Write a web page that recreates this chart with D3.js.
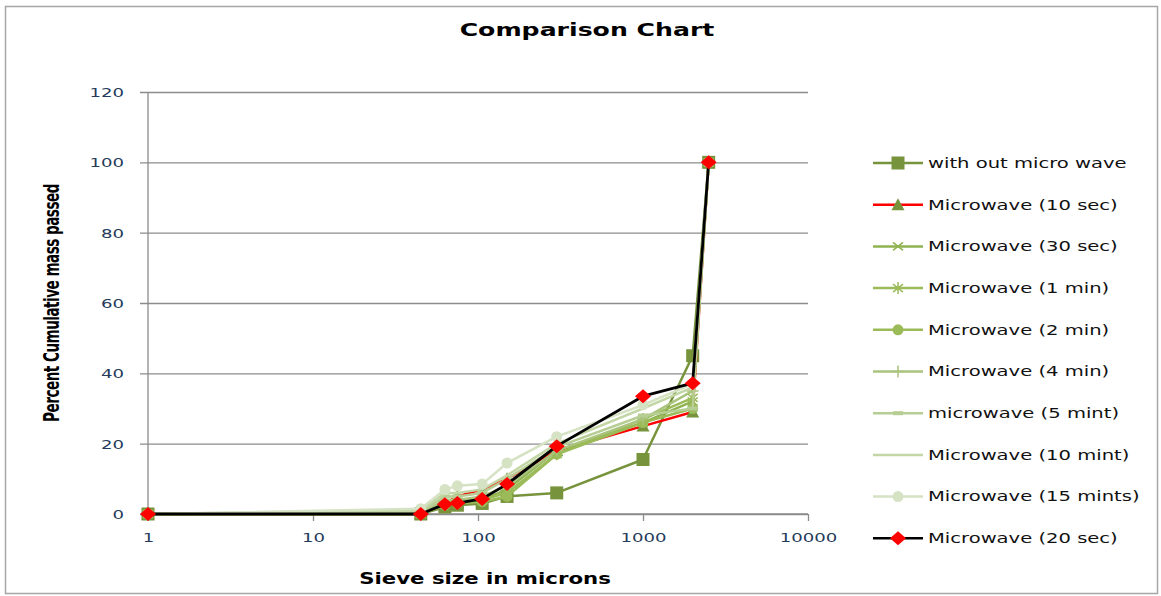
<!DOCTYPE html>
<html>
<head>
<meta charset="utf-8">
<script src="https://cdn.jsdelivr.net/npm/d3@7"></script>
<style>
body { margin: 0; background: #fff; }
text { font-family: "DejaVu Sans", Verdana, sans-serif; }
</style>
</head>
<body>
<div id="canvas"></div>
<script>
// ----------------------------------------------------------
// DATA -----------------------------------------------------
// ----------------------------------------------------------
var sieve_sizes = [1, 45, 63, 75, 106, 150, 300, 1000, 2000, 2500];

var series_names = [
"with out micro wave", "Microwave (10 sec)", "Microwave (30 sec)", "Microwave (1 min)",
"Microwave (2 min)", "Microwave (4 min)", "microwave (5 mint)", "Microwave (10 mint)",
"Microwave (15 mints)", "Microwave (20 sec)"
];

var values_0 = [0, 0, 2, 2.5, 3, 5, 6, 15.5, 45, 100];
var values_1 = [0, 0, 3, 5, 7, 10, 18, 25, 29, 100];
var values_2 = [0, 0, 3, 4, 4, 7, 18, 26, 32, 100];
var values_3 = [0, 0, 3, 3.5, 4, 6, 17, 27, 33, 100];
var values_4 = [0, 0, 2.5, 3, 3.5, 5, 17, 26, 30, 100];
var values_5 = [0, 0, 4, 4, 5, 8, 18, 27, 35, 100];
var values_6 = [0, 0.5, 5, 5, 6, 10, 19, 28, 30, 100];
var values_7 = [0, 1, 6, 6, 7, 11, 20, 30, 36, 100];
var values_8 = [0, 1.5, 7, 8, 8.5, 14.5, 22, 31, 37, 100];
var values_9 = [0, 0, 2.8, 3.1, 4.3, 8.5, 19.3, 33.5, 37.2, 100];

var x_ticks = [1, 10, 100, 1000, 10000];
var y_ticks = [0, 20, 40, 60, 80, 100, 120];

var all_values = [values_0, values_1, values_2, values_3, values_4,
                  values_5, values_6, values_7, values_8, values_9];

// style per series: line colour, marker shape, marker colour
var styles = [
{line: "#77933c", marker: "square", fill: "#77933c", size: 13},
{line: "#ff0000", marker: "triangle", fill: "#77933c", size: 11},
{line: "#8fb350", marker: "cross", fill: "#8fb350", size: 10},
{line: "#9bbb59", marker: "star", fill: "#9bbb59", size: 10},
{line: "#9bbb59", marker: "circle", fill: "#9bbb59", size: 11},
{line: "#aac47e", marker: "plus", fill: "#aac47e", size: 11},
{line: "#b6cd93", marker: "dash", fill: "#b6cd93", size: 10},
{line: "#c3d6a5", marker: "none", fill: "#c3d6a5", size: 0},
{line: "#d5e2c3", marker: "circle", fill: "#d5e2c3", size: 11},
{line: "#000000", marker: "diamond", fill: "#ff0000", size: 12}
];

// the source picture is stretched sideways, so text is widened
var stretch = 1.45;

// ----------------------------------------------------------
// STRUCTURE ------------------------------------------------
// ----------------------------------------------------------
var W = 1161, H = 596;
var svg = d3.select("#canvas").append("svg")
.attr("width", W)
.attr("height", H);

// outer frame
svg.append("rect")
.attr("x", 5.5).attr("y", 6.5)
.attr("width", W - 9).attr("height", H - 9)
.style("fill", "#fff").style("stroke", "#a6a6a6").style("stroke-width", 1.5);

var plot = {left: 148, right: 808, top: 92, bottom: 514};

// ----------------------------------------------------------
// SCALES ---------------------------------------------------
// ----------------------------------------------------------
var xScale = d3.scaleLog().domain([1, 10000]).range([plot.left, plot.right]);
var yScale = d3.scaleLinear().domain([0, 120]).range([plot.bottom, plot.top]);

// put a text at (x, y) widened by sx
function wideText(parent, x, y, sx, anchor) {
  return parent.append("text")
  .attr("transform", "translate(" + x + "," + y + ") scale(" + sx + ",1)")
  .attr("text-anchor", anchor);
}

// ----------------------------------------------------------
// AXES -----------------------------------------------------
// ----------------------------------------------------------
var yAxis = d3.axisLeft(yScale)
.tickValues(y_ticks)
.tickSize(-(plot.right - plot.left) - 8)
.tickFormat(d3.format("d"));

svg.append("g")
.attr("transform", "translate(" + plot.left + ",0)")
.call(function(g) {
  g.call(yAxis);
  g.select(".domain").remove();
  g.selectAll(".tick line").attr("x1", -8).attr("x2", plot.right - plot.left)
   .attr("stroke", "#8c8c8c").attr("stroke-width", 1.3);
  g.selectAll(".tick text").remove();
  g.selectAll(".tick").each(function(d) {
    wideText(d3.select(this), -24, 0, stretch, "end")
    .attr("dy", "0.36em")
    .attr("fill", "#243a5a").style("font-size", "12.5px")
    .text(d3.format("d")(d));
  });
});

// y axis line
svg.append("line")
.attr("x1", plot.left).attr("x2", plot.left)
.attr("y1", plot.top).attr("y2", plot.bottom)
.attr("stroke", "#8c8c8c").attr("stroke-width", 1.3);

var xAxis = d3.axisBottom(xScale)
.tickValues(x_ticks)
.tickSize(7);

svg.append("g")
.attr("transform", "translate(0," + plot.bottom + ")")
.call(function(g) {
  g.call(xAxis);
  g.select(".domain").attr("stroke", "#8c8c8c").attr("stroke-width", 1.3)
   .attr("d", "M" + plot.left + ",0H" + plot.right);
  g.selectAll(".tick line").attr("stroke", "#8c8c8c").attr("stroke-width", 1.3);
  g.selectAll(".tick text").remove();
  g.selectAll(".tick").each(function(d) {
    wideText(d3.select(this), 0, 28, stretch, "middle")
    .attr("fill", "#243a5a").style("font-size", "12.5px")
    .text(d3.format("d")(d));
  });
});

// ----------------------------------------------------------
// SERIES ---------------------------------------------------
// ----------------------------------------------------------
var line = d3.line()
.x(function(d, i) { return xScale(sieve_sizes[i]); })
.y(function(d) { return yScale(d); });

function drawMarker(g, st, cx, cy) {
  var s = st.size;
  if (st.marker == "square") {
    g.append("rect").attr("x", cx - s / 2).attr("y", cy - s / 2)
     .attr("width", s).attr("height", s).style("fill", st.fill);
  } else if (st.marker == "diamond") {
    g.append("path").attr("transform", "translate(" + cx + "," + cy + ")")
     .attr("d", "M0," + (-s / 2 - 1) + "L" + (s / 2 + 2) + ",0L0," + (s / 2 + 1) + "L" + (-s / 2 - 2) + ",0Z")
     .style("fill", st.fill);
  } else if (st.marker == "triangle") {
    g.append("path").attr("transform", "translate(" + cx + "," + cy + ")")
     .attr("d", "M0," + (-s / 2 - 1) + "L" + (s / 2 + 1) + "," + (s / 2) + "L" + (-s / 2 - 1) + "," + (s / 2) + "Z")
     .style("fill", st.fill);
  } else if (st.marker == "circle") {
    g.append("circle").attr("cx", cx).attr("cy", cy).attr("r", s / 2).style("fill", st.fill);
  } else if (st.marker == "cross") {
    g.append("path").attr("transform", "translate(" + cx + "," + cy + ")")
     .attr("d", "M-5,-4L5,4M-5,4L5,-4").style("stroke", st.fill).style("stroke-width", 1.5);
  } else if (st.marker == "star") {
    g.append("path").attr("transform", "translate(" + cx + "," + cy + ")")
     .attr("d", "M-5,-4L5,4M-5,4L5,-4M0,-6V6").style("stroke", st.fill).style("stroke-width", 1.5);
  } else if (st.marker == "plus") {
    g.append("path").attr("transform", "translate(" + cx + "," + cy + ")")
     .attr("d", "M-6,0H6M0,-6V6").style("stroke", st.fill).style("stroke-width", 1.5);
  } else if (st.marker == "dash") {
    g.append("rect").attr("x", cx - 5).attr("y", cy - 2)
     .attr("width", 10).attr("height", 4).style("fill", st.fill);
  }
}

var gfx = svg.append("g").attr("class", "gfx");
all_values.forEach(function(vals, k) {
  var st = styles[k];
  var g = gfx.append("g").attr("class", "series_" + k);
  g.append("path")
  .datum(vals)
  .attr("d", line)
  .style("fill", "none").style("stroke", st.line)
  .style("stroke-width", k == 9 ? 2.8 : 2.5)
  .style("stroke-linejoin", "round");
  vals.forEach(function(v, i) {
    drawMarker(g, st, xScale(sieve_sizes[i]), yScale(v));
  });
});

// ----------------------------------------------------------
// LEGEND ---------------------------------------------------
// ----------------------------------------------------------
var legend = svg.append("g").attr("class", "legend");
series_names.forEach(function(name, k) {
  var y = 163 + k * 41.7;
  var st = styles[k];
  var g = legend.append("g");
  g.append("line").attr("x1", 873).attr("x2", 923).attr("y1", y).attr("y2", y)
   .style("stroke", st.line).style("stroke-width", 2.5);
  drawMarker(g, st, 898, y);
  wideText(g, 928, y, stretch, "start")
   .attr("dy", "0.36em")
   .style("font-size", "13.5px").style("fill", "#111")
   .text(name);
});

// ----------------------------------------------------------
// TEXT -----------------------------------------------------
// ----------------------------------------------------------
wideText(svg, 587, 36, 1.48, "middle")
.style("font-size", "17px").style("font-weight", "bold").style("fill", "#000")
.text("Comparison Chart");

wideText(svg, 485, 584, 1.33, "middle")
.style("font-size", "16px").style("font-weight", "bold").style("fill", "#000")
.text("Sieve size in microns");

svg.append("text")
.attr("transform", "translate(59,303) rotate(-90) scale(0.89,1.3)")
.attr("text-anchor", "middle")
.style("font-family", "'Liberation Sans Narrow', 'DejaVu Sans Condensed', sans-serif")
.style("font-size", "17px").style("font-weight", "bold").style("fill", "#000")
.style("letter-spacing", "-0.6px")
.text("Percent Cumulative mass passed");
</script>
</body>
</html>
